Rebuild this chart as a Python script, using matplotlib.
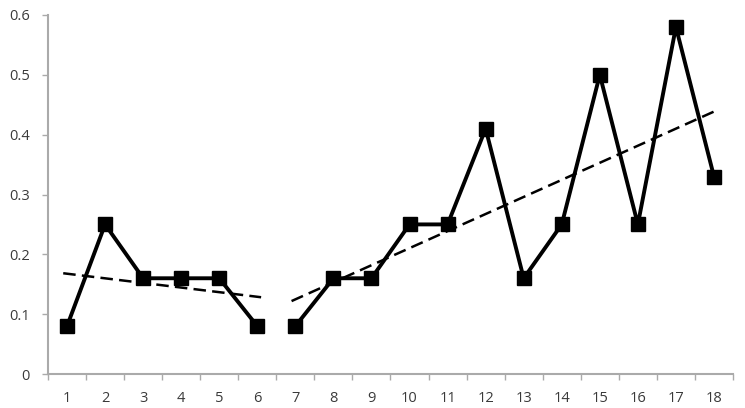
import numpy as np
import matplotlib
matplotlib.use("Agg")
import matplotlib.pyplot as plt
from matplotlib.ticker import FixedLocator

x1 = [1, 2, 3, 4, 5, 6]
y1 = [0.08, 0.25, 0.16, 0.16, 0.16, 0.08]
x2 = [7, 8, 9, 10, 11, 12, 13, 14, 15, 16, 17, 18]
y2 = [0.08, 0.16, 0.16, 0.25, 0.25, 0.41, 0.16, 0.25, 0.50, 0.25, 0.58, 0.33]
xlabels = [str(i) for i in range(1, 19)]
yticks = [0, 0.1, 0.2, 0.3, 0.4, 0.5, 0.6]
ylabels = ['0', '0.1', '0.2', '0.3', '0.4', '0.5', '0.6']

plt.rcParams['font.family'] = ['Open Sans', 'DejaVu Sans']
fig = plt.figure(figsize=(7.45, 4.08), dpi=100)
ax = fig.add_axes([48/745, 1-374/408, (733-48)/745, (374-15)/408])

for xs, ys in [(x1, y1), (x2, y2)]:
    ax.plot(xs, ys, color='black', lw=2.8, marker='s', ms=10, zorder=3,
            solid_joinstyle='miter')
    k, b = np.polyfit(xs, ys, 1)
    xe = np.array([xs[0] - 0.1, xs[-1] + 0.1])
    ax.plot(xe, k*xe + b, color='black', lw=1.8, ls=(0, (5, 2.5)), zorder=2)

ax.set_xlim(0.5, 18.5)
ax.set_ylim(0, 0.6)
ax.set_xticks(range(1, 19))
ax.set_xticklabels(xlabels)
ax.tick_params(axis='x', which='major', length=0, pad=12, labelsize=10.5, labelcolor='#3a3a3a')
ax.xaxis.set_minor_locator(FixedLocator(np.arange(0.5, 19, 1)))
ax.tick_params(axis='x', which='minor', length=4, width=1, color='#aaaaaa', direction='out')
ax.set_yticks(yticks)
ax.set_yticklabels(ylabels)
ax.tick_params(axis='y', length=4, width=1, color='#aaaaaa', direction='out', pad=9,
               labelsize=10.5, labelcolor='#3a3a3a')
for s in ['top', 'right']:
    ax.spines[s].set_visible(False)
for s in ['left', 'bottom']:
    ax.spines[s].set_color('#aaaaaa')
    ax.spines[s].set_linewidth(1.5)

fig.savefig('out.png', dpi=100)
